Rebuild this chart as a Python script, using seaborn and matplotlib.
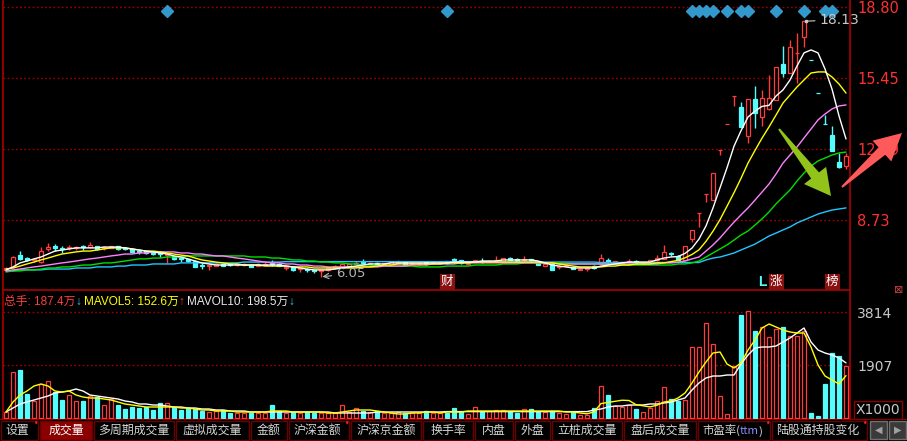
import numpy as np
import pandas as pd
import matplotlib
matplotlib.use("Agg")
import matplotlib.pyplot as plt
import seaborn as sns
from matplotlib.patches import Polygon, Rectangle
from matplotlib.transforms import blended_transform_factory

# ------------------------------------------------------------------ data
opens = [
    6.37, 6.51, 7.07, 6.93, 6.84, 6.74, 7.36, 7.50, 7.41, 7.41,
    7.41, 7.50, 7.45, 7.50, 7.41, 7.41, 7.50, 7.41, 7.36, 7.26,
    7.26, 7.22, 7.17, 7.07, 7.03, 6.93, 6.89, 6.79, 6.60, 6.55,
    6.55, 6.65, 6.65, 6.60, 6.60, 6.60, 6.55, 6.60, 6.70, 6.65,
    6.46, 6.51, 6.41, 6.41, 6.37, 6.32, 6.37, 6.46, 6.51, 6.55,
    6.65, 6.74, 6.65, 6.70, 6.65, 6.65, 6.70, 6.74, 6.65, 6.65,
    6.74, 6.70, 6.70, 6.79, 6.89, 6.84, 6.65, 6.74, 6.79, 6.74,
    6.79, 6.79, 6.93, 6.89, 6.84, 6.89, 6.74, 6.55, 6.65, 6.51,
    6.55, 6.51, 6.37, 6.41, 6.55, 6.65, 6.84, 6.65, 6.70, 6.74,
    6.79, 6.65, 6.74, 6.84, 6.89, 7.17, 7.03, 6.84, 7.83, 9.06,
    9.96, 9.67, 12.04, 13.27, 14.59, 14.07, 12.70, 14.45, 13.60, 13.98,
    14.40, 16.10, 15.68, 16.63, 17.38, 16.31, 14.74, 13.28, 12.75, 11.47,
    11.28]
closes = [
    6.46, 6.98, 6.89, 6.84, 6.89, 7.26, 7.45, 7.41, 7.36, 7.45,
    7.45, 7.45, 7.55, 7.36, 7.45, 7.50, 7.36, 7.36, 7.22, 7.22,
    7.17, 7.12, 7.12, 7.12, 6.89, 6.89, 6.79, 6.51, 6.55, 6.60,
    6.65, 6.55, 6.60, 6.65, 6.65, 6.51, 6.65, 6.65, 6.65, 6.55,
    6.51, 6.37, 6.46, 6.37, 6.32, 6.37, 6.46, 6.55, 6.65, 6.65,
    6.70, 6.70, 6.70, 6.65, 6.70, 6.74, 6.74, 6.60, 6.70, 6.70,
    6.65, 6.74, 6.74, 6.70, 6.84, 6.70, 6.70, 6.84, 6.74, 6.79,
    6.84, 6.93, 6.84, 6.79, 6.89, 6.84, 6.60, 6.65, 6.37, 6.55,
    6.60, 6.41, 6.41, 6.46, 6.46, 6.93, 6.74, 6.79, 6.74, 6.79,
    6.74, 6.70, 6.84, 6.93, 7.22, 7.12, 6.84, 7.50, 8.26, 9.06,
    9.96, 10.95, 12.04, 13.27, 14.59, 13.13, 14.45, 13.79, 14.50, 14.50,
    15.96, 15.68, 16.91, 16.63, 18.13, 16.29, 14.73, 13.27, 11.99, 11.23,
    11.75]
highs = [
    6.51, 7.03, 7.26, 6.98, 6.93, 7.45, 7.64, 7.59, 7.50, 7.55,
    7.50, 7.55, 7.69, 7.50, 7.50, 7.50, 7.50, 7.45, 7.41, 7.31,
    7.26, 7.22, 7.22, 7.17, 7.03, 6.93, 6.89, 6.84, 6.70, 6.60,
    6.70, 6.70, 6.70, 6.70, 6.70, 6.65, 6.70, 6.74, 6.84, 6.70,
    6.55, 6.55, 6.51, 6.46, 6.37, 6.37, 6.51, 6.60, 6.70, 6.70,
    6.79, 6.89, 6.74, 6.74, 6.70, 6.74, 6.84, 6.74, 6.74, 6.74,
    6.79, 6.79, 6.79, 6.79, 6.93, 6.84, 6.70, 6.84, 6.93, 6.84,
    7.03, 6.93, 6.98, 6.93, 7.03, 6.89, 6.79, 6.70, 6.65, 6.60,
    6.65, 6.55, 6.46, 6.51, 6.60, 7.12, 6.93, 6.79, 6.74, 6.89,
    6.84, 6.74, 6.84, 7.07, 7.55, 7.22, 7.07, 7.50, 8.26, 9.06,
    9.96, 10.95, 12.04, 13.27, 14.59, 14.31, 14.45, 15.06, 14.88, 15.58,
    15.96, 16.96, 17.24, 17.57, 18.13, 16.31, 14.74, 13.69, 13.17, 11.90,
    11.90]
lows = [
    6.32, 6.46, 6.84, 6.79, 6.74, 6.70, 7.26, 7.26, 7.17, 7.31,
    7.31, 7.31, 7.41, 7.31, 7.31, 7.41, 7.31, 7.31, 7.17, 7.12,
    7.12, 7.07, 6.98, 6.70, 6.84, 6.74, 6.74, 6.51, 6.41, 6.37,
    6.55, 6.55, 6.55, 6.55, 6.55, 6.51, 6.55, 6.60, 6.55, 6.55,
    6.37, 6.32, 6.27, 6.27, 6.22, 6.05, 6.32, 6.41, 6.51, 6.55,
    6.60, 6.65, 6.55, 6.55, 6.60, 6.60, 6.65, 6.60, 6.65, 6.60,
    6.60, 6.65, 6.65, 6.65, 6.70, 6.65, 6.60, 6.74, 6.70, 6.74,
    6.79, 6.79, 6.84, 6.79, 6.79, 6.74, 6.60, 6.55, 6.37, 6.41,
    6.51, 6.41, 6.37, 6.32, 6.41, 6.65, 6.65, 6.65, 6.70, 6.70,
    6.65, 6.65, 6.74, 6.79, 6.89, 7.03, 6.84, 6.84, 7.69, 8.40,
    9.58, 9.67, 11.80, 13.27, 14.12, 13.13, 12.37, 13.08, 13.17, 13.93,
    14.40, 15.49, 15.68, 15.21, 16.91, 16.29, 14.73, 13.27, 11.99, 11.19,
    11.14]
ma5 = [
    6.37, 6.51, 6.70, 6.79, 6.89, 6.98, 7.12, 7.26, 7.31, 7.36,
    7.41, 7.41, 7.41, 7.41, 7.45, 7.45, 7.45, 7.41, 7.36, 7.31,
    7.26, 7.22, 7.17, 7.12, 7.03, 6.98, 6.89, 6.79, 6.70, 6.65,
    6.60, 6.60, 6.60, 6.60, 6.60, 6.60, 6.60, 6.60, 6.60, 6.60,
    6.55, 6.51, 6.46, 6.41, 6.37, 6.37, 6.37, 6.41, 6.46, 6.51,
    6.55, 6.60, 6.65, 6.65, 6.65, 6.70, 6.70, 6.70, 6.70, 6.70,
    6.70, 6.70, 6.70, 6.70, 6.74, 6.74, 6.74, 6.74, 6.79, 6.79,
    6.79, 6.84, 6.84, 6.84, 6.84, 6.84, 6.79, 6.70, 6.60, 6.55,
    6.51, 6.46, 6.46, 6.46, 6.46, 6.55, 6.60, 6.65, 6.70, 6.74,
    6.74, 6.74, 6.74, 6.84, 6.93, 6.98, 7.00, 7.15, 7.40, 7.83,
    8.45, 9.30, 10.25, 11.20, 12.22, 12.95, 13.60, 13.88, 14.10, 14.15,
    14.59, 14.88, 15.35, 16.01, 16.63, 16.77, 16.63, 15.87, 14.92, 13.65,
    12.56]
ma10 = [
    6.41, 6.46, 6.55, 6.65, 6.74, 6.84, 6.93, 7.03, 7.12, 7.17,
    7.22, 7.26, 7.26, 7.31, 7.36, 7.41, 7.41, 7.41, 7.36, 7.31,
    7.26, 7.26, 7.22, 7.17, 7.12, 7.07, 7.03, 6.93, 6.84, 6.79,
    6.74, 6.70, 6.65, 6.65, 6.60, 6.60, 6.60, 6.55, 6.55, 6.55,
    6.55, 6.51, 6.51, 6.51, 6.46, 6.46, 6.46, 6.46, 6.46, 6.46,
    6.46, 6.51, 6.51, 6.55, 6.60, 6.60, 6.65, 6.65, 6.65, 6.65,
    6.65, 6.65, 6.65, 6.70, 6.70, 6.70, 6.70, 6.74, 6.74, 6.74,
    6.74, 6.74, 6.74, 6.74, 6.74, 6.74, 6.74, 6.70, 6.70, 6.65,
    6.60, 6.55, 6.51, 6.51, 6.51, 6.51, 6.55, 6.55, 6.60, 6.60,
    6.65, 6.65, 6.65, 6.70, 6.70, 6.76, 6.82, 6.94, 7.10, 7.32,
    7.72, 8.20, 8.75, 9.38, 10.02, 10.70, 11.42, 12.02, 12.60, 13.13,
    13.69, 14.26, 14.64, 15.02, 15.35, 15.68, 15.73, 15.73, 15.49, 15.16,
    14.73]
ma20 = [
    6.32, 6.37, 6.41, 6.46, 6.51, 6.55, 6.60, 6.65, 6.70, 6.74,
    6.79, 6.84, 6.89, 6.93, 6.98, 7.03, 7.07, 7.12, 7.12, 7.17,
    7.17, 7.22, 7.22, 7.22, 7.22, 7.17, 7.17, 7.12, 7.12, 7.07,
    7.03, 7.03, 6.98, 6.93, 6.89, 6.84, 6.79, 6.74, 6.70, 6.70,
    6.65, 6.65, 6.60, 6.60, 6.55, 6.55, 6.51, 6.51, 6.51, 6.51,
    6.51, 6.51, 6.51, 6.51, 6.55, 6.55, 6.55, 6.55, 6.60, 6.60,
    6.60, 6.65, 6.65, 6.65, 6.65, 6.70, 6.70, 6.70, 6.70, 6.70,
    6.70, 6.70, 6.70, 6.70, 6.70, 6.70, 6.70, 6.70, 6.70, 6.65,
    6.65, 6.65, 6.65, 6.65, 6.65, 6.65, 6.65, 6.65, 6.65, 6.65,
    6.65, 6.65, 6.65, 6.65, 6.70, 6.70, 6.74, 6.79, 6.89, 6.98,
    7.26, 7.55, 7.88, 8.26, 8.63, 8.97, 9.30, 9.67, 10.05, 10.43,
    10.90, 11.42, 11.80, 12.18, 12.61, 13.03, 13.46, 13.74, 13.98, 14.12,
    14.17]
ma30 = [
    6.27, 6.32, 6.32, 6.37, 6.37, 6.41, 6.46, 6.46, 6.51, 6.51,
    6.55, 6.60, 6.60, 6.65, 6.70, 6.70, 6.74, 6.79, 6.84, 6.89,
    6.89, 6.93, 6.93, 6.98, 6.98, 6.98, 7.03, 7.03, 7.03, 7.03,
    7.03, 7.03, 7.03, 7.03, 7.03, 6.98, 6.98, 6.98, 6.93, 6.93,
    6.89, 6.84, 6.84, 6.79, 6.79, 6.74, 6.74, 6.70, 6.70, 6.65,
    6.65, 6.60, 6.60, 6.55, 6.55, 6.55, 6.55, 6.55, 6.55, 6.51,
    6.51, 6.51, 6.51, 6.55, 6.55, 6.55, 6.55, 6.60, 6.60, 6.60,
    6.60, 6.65, 6.65, 6.65, 6.70, 6.70, 6.70, 6.70, 6.70, 6.70,
    6.70, 6.65, 6.65, 6.65, 6.65, 6.65, 6.65, 6.65, 6.60, 6.60,
    6.60, 6.60, 6.60, 6.60, 6.60, 6.60, 6.65, 6.65, 6.70, 6.79,
    6.98, 7.17, 7.36, 7.55, 7.78, 8.02, 8.21, 8.49, 8.78, 9.11,
    9.49, 9.82, 10.15, 10.57, 10.95, 11.28, 11.52, 11.66, 11.80, 11.90,
    11.94]
ma60 = [
    6.32, 6.32, 6.37, 6.37, 6.37, 6.37, 6.41, 6.41, 6.41, 6.41,
    6.46, 6.46, 6.46, 6.51, 6.51, 6.51, 6.55, 6.55, 6.60, 6.60,
    6.60, 6.65, 6.65, 6.65, 6.65, 6.70, 6.70, 6.70, 6.70, 6.70,
    6.70, 6.70, 6.70, 6.70, 6.74, 6.74, 6.74, 6.74, 6.74, 6.74,
    6.76, 6.76, 6.76, 6.76, 6.76, 6.76, 6.76, 6.76, 6.76, 6.76,
    6.76, 6.76, 6.76, 6.76, 6.76, 6.76, 6.76, 6.76, 6.76, 6.76,
    6.76, 6.76, 6.76, 6.76, 6.76, 6.76, 6.76, 6.76, 6.76, 6.76,
    6.74, 6.74, 6.74, 6.74, 6.74, 6.74, 6.74, 6.74, 6.74, 6.74,
    6.74, 6.74, 6.74, 6.74, 6.74, 6.72, 6.72, 6.72, 6.72, 6.72,
    6.72, 6.72, 6.72, 6.72, 6.72, 6.72, 6.72, 6.72, 6.72, 6.72,
    6.84, 6.93, 6.98, 7.07, 7.17, 7.31, 7.45, 7.59, 7.78, 7.97,
    8.11, 8.26, 8.40, 8.59, 8.73, 8.87, 9.01, 9.11, 9.20, 9.25,
    9.30]
# volume in units of 1000 (axis shows X1000)
volume = [
    216, 1656, 1728, 864, 623, 1224, 1332, 936, 648, 828,
    612, 623, 792, 756, 468, 684, 468, 324, 396, 360,
    396, 288, 540, 540, 396, 288, 360, 324, 252, 216,
    252, 288, 180, 180, 180, 180, 180, 180, 468, 252,
    180, 216, 180, 216, 180, 180, 180, 180, 468, 216,
    360, 252, 216, 252, 180, 180, 216, 180, 180, 180,
    252, 180, 180, 180, 360, 216, 144, 396, 216, 252,
    288, 288, 216, 180, 324, 324, 216, 216, 252, 180,
    144, 216, 108, 108, 360, 1152, 828, 432, 410, 468,
    324, 216, 360, 612, 1116, 684, 612, 648, 2556, 2556,
    3420, 2664, 792, 144, 1872, 3708, 3852, 3132, 3276, 2916,
    3204, 3276, 2952, 2952, 3132, 180, 72, 1224, 2340, 2232,
    1874]
mavol5 = [
    216, 576, 828, 972, 1152, 1224, 1152, 972, 936, 972,
    828, 756, 720, 720, 684, 648, 576, 504, 468, 432,
    396, 396, 396, 396, 396, 360, 360, 324, 288, 288,
    252, 252, 252, 216, 216, 216, 216, 216, 252, 252,
    252, 216, 216, 216, 216, 216, 180, 180, 216, 252,
    288, 288, 288, 252, 216, 180, 144, 144, 180, 180,
    216, 216, 180, 216, 216, 216, 252, 252, 252, 252,
    252, 252, 252, 252, 252, 252, 252, 252, 252, 252,
    216, 216, 180, 150, 220, 520, 560, 600, 640, 630,
    480, 440, 400, 460, 576, 612, 720, 900, 1260, 1656,
    2016, 2340, 2376, 1944, 1800, 1980, 2448, 2808, 3240, 3384,
    3276, 3168, 3096, 3060, 3060, 2556, 1908, 1512, 1368, 1224,
    1526]
mavol10 = [
    216, 360, 504, 576, 648, 720, 792, 900, 936, 972,
    1044, 972, 828, 792, 756, 720, 684, 612, 576, 504,
    504, 468, 468, 432, 396, 396, 360, 360, 324, 324,
    288, 288, 252, 252, 252, 216, 216, 216, 216, 216,
    216, 216, 216, 216, 216, 216, 216, 180, 180, 180,
    180, 180, 180, 216, 216, 216, 216, 216, 216, 216,
    216, 216, 216, 230, 230, 230, 230, 230, 230, 230,
    230, 230, 230, 230, 230, 230, 230, 230, 230, 230,
    230, 230, 230, 230, 288, 324, 396, 432, 432, 468,
    468, 468, 504, 504, 540, 576, 648, 720, 1008, 1260,
    1440, 1512, 1512, 1548, 1548, 1944, 2268, 2520, 2556, 2556,
    2592, 2736, 2880, 3060, 3240, 2736, 2448, 2340, 2268, 2160,
    1985]
price_ticks = [8.73, 12.09, 15.45, 18.80]
vol_ticks = [1907, 3814]
marker_days = [23, 63, 98, 99, 100, 101, 103, 105, 106, 110, 114, 117, 118]
event_days = [63, 108, 110, 118]
event_labels = ["财", "L", "涨", "榜"]
tab_labels = ["设置", "成交量", "多周期成交量", "虚拟成交量", "金额", "沪深金额",
              "沪深京金额", "换手率", "内盘", "外盘", "立桩成交量", "盘后成交量",
              "市盈率(ttm)", "陆股通持股变化"]
dotted_tabs = ["设置", "沪深金额", "市盈率(ttm)", "陆股通持股变化"]

for arr in (opens, closes, highs, lows, ma5, ma10, ma20, ma30, ma60,
            volume, mavol5, mavol10):
    assert len(arr) == 121, len(arr)

# ------------------------------------------------------------------ style
sns.set_theme(style="dark", rc={"axes.facecolor": "black",
                                "figure.facecolor": "black",
                                "savefig.facecolor": "black"})
plt.rcParams["font.family"] = ["DejaVu Sans", "Noto Sans CJK SC"]
CJK = ["Noto Sans CJK SC", "DejaVu Sans"]
LEG = ["Liberation Sans", "Noto Sans CJK SC", "DejaVu Sans"]

RED = "#ff3c3c"
CYAN = "#54fcfc"
GRID = "#a00000"
SPINE = "#a80000"

W, H = 907, 441
fig = plt.figure(figsize=(W / 100, H / 100), dpi=100)


def fx(px):
    return px / W


def fy(py):
    return 1 - py / H


ax_p = fig.add_axes([fx(3), fy(290), fx(850) - fx(3), fy(0) - fy(290)])
ax_v = fig.add_axes([fx(3), fy(419), fx(850) - fx(3), fy(291) - fy(419)])
ax_t = fig.add_axes([0, 0, 1, fy(419)])

o = np.array(opens); c = np.array(closes)
h = np.array(highs); l = np.array(lows)
x = np.arange(len(o))
up = c >= o
cols = np.where(up, RED, CYAN)
faces = np.where(up, "black", CYAN)
lo_body = np.minimum(o, c)
hi_body = np.maximum(o, c)

# ------------------------------------------------------------------ price panel
ax_p.vlines(x, l, lo_body, colors=cols, lw=1, zorder=3)
ax_p.vlines(x, hi_body, h, colors=cols, lw=1, zorder=3)
ax_p.bar(x, hi_body - lo_body, bottom=lo_body, width=0.64, color=faces,
         edgecolor=cols, linewidth=0.9, zorder=3)

df_ma = pd.DataFrame({"day": x, "MA5": ma5, "MA10": ma10, "MA20": ma20,
                      "MA30": ma30, "MA60": ma60}).melt("day", var_name="line",
                                                        value_name="value")
pal = {"MA5": "#ffffff", "MA10": "#ffff00", "MA20": "#ff80ff",
       "MA30": "#00e000", "MA60": "#20c8ff"}
sns.lineplot(data=df_ma, x="day", y="value", hue="line", palette=pal,
             hue_order=["MA60", "MA30", "MA20", "MA10", "MA5"],
             linewidth=1, legend=False, estimator=None, ax=ax_p, zorder=4)

ax_p.set_xlim(-0.43, 120.57)
ax_p.set_ylim(5.419, 19.131)

# ------------------------------------------------------------------ volume panel
ax_v.bar(x, volume, width=0.64, color=faces, edgecolor=cols, linewidth=0.9,
         zorder=3)
df_mv = pd.DataFrame({"day": x, "MAVOL5": mavol5, "MAVOL10": mavol10}).melt(
    "day", var_name="line", value_name="value")
sns.lineplot(data=df_mv, x="day", y="value", hue="line",
             palette={"MAVOL5": "#ffff00", "MAVOL10": "#ffffff"},
             hue_order=["MAVOL10", "MAVOL5"], linewidth=1, legend=False,
             estimator=None, ax=ax_v, zorder=4)
ax_v.set_xlim(-0.43, 120.57)
ax_v.set_ylim(-36, 4572)

# ------------------------------------------------------------------ axes cosmetics
for ax, ticks, labs, lc, fs in (
        (ax_p, price_ticks, [f"{t:.2f}" for t in price_ticks], "#ff3030", 10.5),
        (ax_v, vol_ticks, [str(t) for t in vol_ticks], "#c8c8c8", 10)):
    ax.set(xlabel="", ylabel="")
    ax.set_facecolor("black")
    ax.set_xticks([])
    ax.yaxis.tick_right()
    ax.set_yticks(ticks, labels=labs)
    ax.tick_params(axis="y", length=0, pad=5, labelcolor=lc, labelsize=fs,
                   right=True, left=False, labelright=True, labelleft=False)
    ax.grid(False)
    ax.yaxis.grid(True, color=GRID, linestyle=(0, (1.2, 1.8)), linewidth=1)
    ax.set_axisbelow(True)
    for side, sp in ax.spines.items():
        sp.set_color(SPINE)
        sp.set_linewidth(1.2)
        sp.set_visible(side != "top")

# event diamonds along the top of the price panel
trans_p = blended_transform_factory(ax_p.transData, ax_p.transAxes)
ax_p.plot(marker_days, [0.963] * len(marker_days), transform=trans_p,
          ls="none", marker="D", ms=5.8, color="#3399cc", zorder=5, clip_on=False)

# event labels at the bottom of the price panel
for d, lab in zip(event_days, event_labels):
    if lab == "L":
        ax_p.text(d, 0.028, lab, transform=trans_p, ha="center", va="center",
                  color=CYAN, fontsize=10, fontweight="bold", family=LEG, zorder=6)
    else:
        ax_p.text(d, 0.028, lab, transform=trans_p, ha="center", va="center",
                  color="white", fontsize=9, family=CJK, zorder=6,
                  bbox=dict(boxstyle="square,pad=0.1", fc="#8b1010", ec="none"))

# highest / lowest annotations
imax = int(np.argmax(h)); imin = int(np.argmin(l))
ax_p.annotate(f"{h[imax]:.2f}", xy=(imax + 0.25, h[imax]), xytext=(10, 1),
              textcoords="offset points", ha="left", va="center",
              color="#c8c8c8", fontsize=10, zorder=6,
              arrowprops=dict(arrowstyle="-", color="#c8c8c8", lw=0.8,
                              shrinkA=1, shrinkB=0))
ax_p.plot([imax + 0.25], [h[imax]], marker="s", ms=2, color="#c8c8c8", zorder=6)
ax_p.annotate(f"{l[imin]:.2f}", xy=(imin + 0.2, l[imin]), xytext=(10, 2),
              textcoords="offset points", ha="left", va="center",
              color="#b4b4b4", fontsize=9.5, zorder=6,
              arrowprops=dict(arrowstyle="->", color="#b4b4b4", lw=0.8,
                              shrinkA=1, shrinkB=0))

# volume legend line (pieces chained on a common baseline)
vol_arrow = "↓" if volume[-1] < volume[-2] else "↑"
m5_arrow = "↓" if mavol5[-1] < mavol5[-2] else "↑"
m10_arrow = "↓" if mavol10[-1] < mavol10[-2] else "↑"
arrow_col = {"↓": "#33ccff", "↑": "#ff3030"}
pieces = [
    (f"总手: {volume[-1] / 10:.1f}万", "#ff3c3c", 0, 8.5, LEG),
    (vol_arrow, arrow_col[vol_arrow], 0, 8.5, LEG),
    (f"MAVOL5: {mavol5[-1] / 10:.1f}万", "#ffff00", 2.0, 8.5, LEG),
    (m5_arrow, arrow_col[m5_arrow], 0, 8.5, LEG),
    (f"MAVOL10: {mavol10[-1] / 10:.1f}万", "#e8e8e8", 2.0, 8.5, LEG),
    (m10_arrow, arrow_col[m10_arrow], 0, 8.5, LEG),
]
base_y = fy(305)
last = None
for txt, col, gap, fs, fam in pieces:
    if last is None:
        last = fig.text(fx(4), base_y, txt, ha="left", va="baseline",
                        color=col, fontsize=fs, family=fam)
    else:
        last = fig.add_artist(matplotlib.text.Annotation(
            txt, xy=(1, base_y), xycoords=(last, "figure fraction"),
            xytext=(gap, 0), textcoords="offset points", ha="left",
            va="baseline", color=col, fontsize=fs, family=fam))

# X1000 box and small icon
fig.text(fx(856), fy(410), "X1000", ha="left", va="center", color="#c8c8c8",
         fontsize=10, bbox=dict(boxstyle="square,pad=0.12", fc="black",
                                ec="#8b0000", lw=1))
fig.text(fx(899), fy(290), "⊠", ha="center", va="center", color="#d04040",
         fontsize=8)


# ------------------------------------------------------------------ arrows
def tapered_arrow(tail, tip, w_tail, w_neck, head_w, head_len, color):
    tail = np.array(tail, float); tip = np.array(tip, float)
    d = tip - tail
    u = d / np.hypot(*d)
    n = np.array([-u[1], u[0]])
    neck = tip - head_len * u
    pts = [tail + w_tail * n, neck + w_neck * n, neck + head_w * n, tip,
           neck - head_w * n, neck - w_neck * n, tail - w_tail * n]
    pts = [(fx(p[0]), fy(p[1])) for p in pts]
    fig.add_artist(Polygon(pts, closed=True, transform=fig.transFigure,
                           fc=color, ec="none", zorder=20))


tapered_arrow((779, 129), (831, 196), 1.0, 5.0, 14.0, 26.0, "#92c31a")
tapered_arrow((842, 187), (902, 133), 1.0, 5.0, 14.0, 27.0, "#ff5a5a")

# ------------------------------------------------------------------ tab bar
ax_t.set_xlim(0, W)
ax_t.set_ylim(22, 0)
ax_t.axis("off")
ax_t.add_patch(Rectangle((0, 0), W, 22, fc="black", ec="none", zorder=0))
ax_t.plot([0, W], [0.4, 0.4], color=SPINE, lw=1.2, zorder=1)
tab_bounds = [0, 39, 93, 175, 250, 288, 350, 422, 474, 514, 551, 623, 697,
              771, 868]
for k, lab in enumerate(tab_labels):
    x0, x1 = tab_bounds[k], tab_bounds[k + 1]
    active = lab == "成交量"
    ax_t.add_patch(Rectangle((x0 + 1, 1.5), x1 - x0 - 2, 19,
                             fc="#8b0000" if active else "black",
                             ec="#6a0000", lw=1, zorder=2))
    cx = (x0 + x1) / 2 - (2 if lab in dotted_tabs else 0)
    tcol = "white" if active else "#d6d6d6"
    if "(ttm)" in lab:
        t1 = ax_t.text(x0 + 5, 15.5, lab.split("(")[0] + "(", ha="left",
                       va="baseline", color=tcol, fontsize=8.2, family=CJK,
                       zorder=3)
        t2 = ax_t.annotate("ttm", xy=(1, 15.5), xycoords=(t1, "data"),
                           ha="left", va="baseline", color="#8c8cff",
                           fontsize=8.2, family=CJK, zorder=3)
        ax_t.annotate(")", xy=(1, 15.5), xycoords=(t2, "data"), ha="left",
                      va="baseline", color=tcol, fontsize=8.2, family=CJK,
                      zorder=3)
    else:
        ax_t.text(cx, 11.5, lab, ha="center", va="center", color=tcol,
                  fontsize=8.6, family=CJK, zorder=3)
    if lab in dotted_tabs:
        ax_t.text(x1 - 3, 5, "•", ha="center", va="center", color="#ff2020",
                  fontsize=5.5, zorder=4)
for bx, sym in ((870, "◀"), (889, "▶")):
    ax_t.add_patch(Rectangle((bx, 2), 17, 18, fc="#3a3a3a", ec="#707070",
                             lw=1, zorder=2))
    ax_t.text(bx + 8.5, 11, sym, ha="center", va="center", color="#a0a0a0",
              fontsize=7, zorder=3)

fig.savefig("out.png", dpi=100, facecolor="black")
